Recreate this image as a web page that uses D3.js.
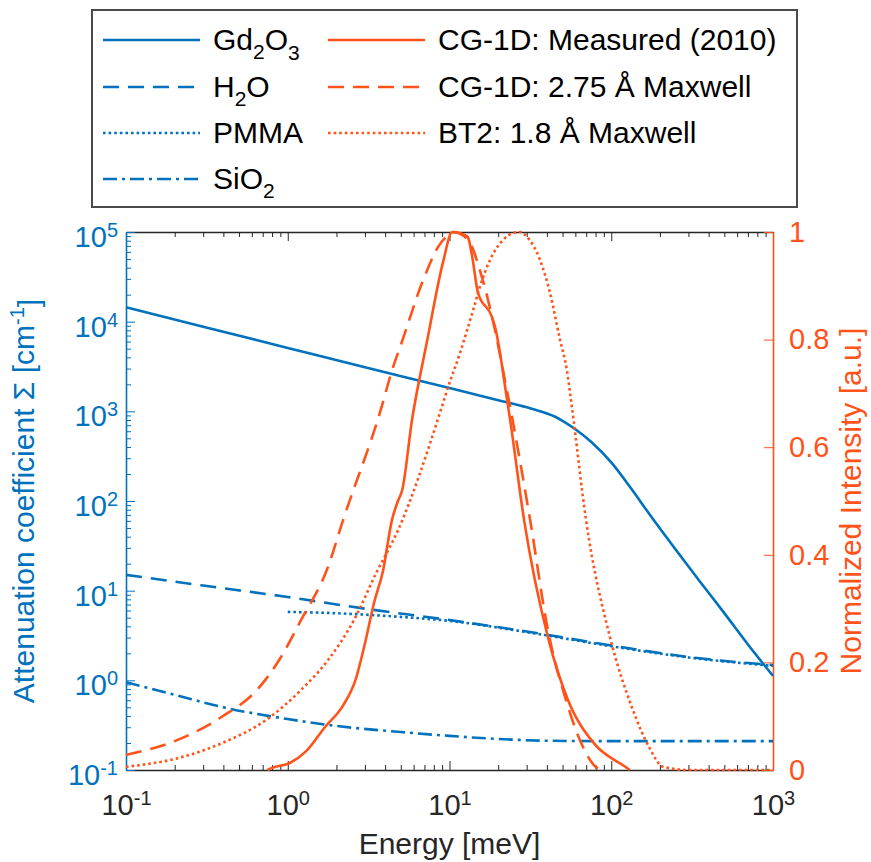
<!DOCTYPE html>
<html>
<head>
<meta charset="utf-8">
<script src="https://cdn.jsdelivr.net/npm/d3@7"></script>
<style>
  body { margin: 0; background: #fff; }
  text { font-family: "Liberation Sans", Arial, sans-serif; }
</style>
</head>
<body>
<div id="chart"></div>
<script>
// ---- data ----
var xTicks = [0.1, 1, 10, 100, 1000];
var yTicksLeft = [0.1, 1, 10, 100, 1000, 10000, 100000];
var yTicksRight = [0, 0.2, 0.4, 0.6, 0.8, 1];

// attenuation coefficients [cm^-1]
var gdE = [0.1, 0.3, 1, 3, 10, 20, 30, 35, 40, 45, 50, 60, 75, 100, 130, 176, 250, 354, 500, 700, 1000];
var gdSigma = [14500, 8800, 5100, 3100, 1820, 1330, 1110, 1020, 945, 870, 785, 631, 457, 269, 145, 67.6, 28.8, 12.6, 5.62, 2.51, 1.12];

var h2oE = [0.1, 0.3, 1, 3, 10, 30, 100, 300, 1000];
var h2oSigma = [15, 11.4, 8.5, 6.3, 4.7, 3.5, 2.45, 1.82, 1.48];

var pmmaE = [1, 2, 3, 5, 10, 30, 100, 300, 1000];
var pmmaSigma = [5.8, 5.6, 5.4, 5.1, 4.6, 3.45, 2.4, 1.8, 1.45];

var sio2E = [0.1, 0.2, 0.4, 1, 2, 5, 10, 20, 40, 100, 1000];
var sio2Sigma = [0.95, 0.69, 0.5, 0.37, 0.31, 0.265, 0.24, 0.222, 0.212, 0.21, 0.21];

// normalized intensity spectra
var measE = [0.75, 0.8, 1.03, 1.3, 1.7, 2.2, 2.64, 3.0, 3.41, 3.88, 4.41, 4.8, 5.1, 5.86, 7.3, 9.12, 10.4, 12.1, 13.0, 13.8, 15.0, 18.3, 19.1, 22.7, 23.7, 28.9, 40.6, 54, 78, 122, 130];
var measI = [0, 0.004, 0.013, 0.035, 0.08, 0.12, 0.17, 0.235, 0.31, 0.37, 0.465, 0.5, 0.52, 0.65, 0.8, 0.944, 1.0, 0.996, 0.99, 0.955, 0.887, 0.842, 0.824, 0.688, 0.651, 0.465, 0.247, 0.13, 0.05, 0.006, 0];

var cgE = [0.1, 0.209, 0.392, 0.646, 0.883, 1.21, 1.77, 2.2, 3.72, 4.48, 4.95, 6.86, 8.49, 9.79, 10.6, 12.2, 13.8, 15.4, 17.1, 19.1, 22.0, 23.7, 31.5, 40.6, 52.5, 66.8, 81.6, 90];
var cgI = [0.028, 0.056, 0.099, 0.149, 0.204, 0.279, 0.377, 0.465, 0.665, 0.749, 0.786, 0.91, 0.972, 0.994, 1.0, 0.993, 0.972, 0.929, 0.88, 0.818, 0.725, 0.675, 0.465, 0.26, 0.13, 0.043, 0.004, 0];

var btE = [0.1, 0.209, 0.392, 0.735, 1.21, 1.77, 2.57, 3.52, 4.81, 8.73, 9.66, 11.6, 14.0, 15.4, 17.8, 21.4, 24.7, 27.3, 30.1, 36.3, 41.8, 48.2, 53.2, 57.1, 69.8, 98.2, 134, 171, 209, 300, 1000];
var btI = [0.006, 0.022, 0.05, 0.093, 0.149, 0.204, 0.279, 0.366, 0.446, 0.664, 0.706, 0.775, 0.855, 0.898, 0.948, 0.985, 0.998, 1.0, 0.991, 0.948, 0.887, 0.8, 0.743, 0.675, 0.465, 0.247, 0.117, 0.043, 0.006, 0, 0];

// ---- sizing ----
var svgWidth = 871;
var svgHeight = 862;
var margin = { top: 232, right: 98, bottom: 92, left: 126 };
var width = svgWidth - margin.left - margin.right;
var height = svgHeight - margin.top - margin.bottom;

var blue = "#0072bd";
var orange = "#ff531a";
var dark = "#262626";

var svg = d3.select("#chart")
  .append("svg")
  .attr("width", svgWidth)
  .attr("height", svgHeight);

var chartGroup = svg.append("g")
  .attr("transform", `translate(${margin.left}, ${margin.top})`);

// scales
var xScale = d3.scaleLog().domain([0.1, 1000]).range([0, width]);
var yLeft = d3.scaleLog().domain([0.1, 100000]).range([height, 0]);
var yRight = d3.scaleLinear().domain([0, 1]).range([height, 0]);

// minor ticks for log axes
function minors(lo, hi) {
  var out = [];
  for (var p = lo; p < hi; p++) {
    for (var k = 2; k <= 9; k++) out.push(k * Math.pow(10, p));
  }
  return out;
}
var xMinor = minors(-1, 3);
var yMinor = minors(-1, 5);

// "10^n" labels
function powerLabel(sel) {
  sel.each(function(d) {
    var t = d3.select(this).text(null);
    var e = Math.round(Math.log10(d));
    t.append("tspan").text("10");
    t.append("tspan").attr("dy", "-0.5em").style("font-size", "20px").text(e);
  });
}

var tickFont = "29px";

// bottom axis
chartGroup.append("g")
  .attr("transform", `translate(0, ${height})`)
  .call(d3.axisBottom(xScale).tickValues(xMinor).tickSizeInner(-5).tickSizeOuter(0).tickFormat(""))
  .call(g => g.select(".domain").remove())
  .call(g => g.selectAll("line").attr("stroke", dark));

chartGroup.append("g")
  .attr("class", "xaxis")
  .attr("transform", `translate(0, ${height})`)
  .call(d3.axisBottom(xScale).tickValues(xTicks).tickSizeInner(-9).tickSizeOuter(0).tickPadding(24))
  .call(g => g.select(".domain").attr("stroke", dark).attr("stroke-width", 1.6))
  .call(g => g.selectAll("line").attr("stroke", dark))
  .call(g => g.selectAll("text").attr("fill", dark).style("font-size", tickFont).call(powerLabel));

// top axis (ticks only)
chartGroup.append("g")
  .call(d3.axisTop(xScale).tickValues(xMinor).tickSizeInner(-5).tickSizeOuter(0).tickFormat(""))
  .call(g => g.select(".domain").remove())
  .call(g => g.selectAll("line").attr("stroke", dark));
chartGroup.append("g")
  .call(d3.axisTop(xScale).tickValues(xTicks).tickSizeInner(-9).tickSizeOuter(0).tickFormat(""))
  .call(g => g.select(".domain").attr("stroke", dark).attr("stroke-width", 1.6))
  .call(g => g.selectAll("line").attr("stroke", dark));

// left axis
chartGroup.append("g")
  .call(d3.axisLeft(yLeft).tickValues(yMinor).tickSizeInner(-5).tickSizeOuter(0).tickFormat(""))
  .call(g => g.select(".domain").remove())
  .call(g => g.selectAll("line").attr("stroke", blue));
chartGroup.append("g")
  .call(d3.axisLeft(yLeft).tickValues(yTicksLeft).tickSizeInner(-9).tickSizeOuter(0).tickPadding(8))
  .call(g => g.select(".domain").attr("stroke", blue).attr("stroke-width", 1.6))
  .call(g => g.selectAll("line").attr("stroke", blue))
  .call(g => g.selectAll("text").attr("fill", blue).attr("dy", "0.5em").style("font-size", tickFont).call(powerLabel));

// right axis
chartGroup.append("g")
  .attr("transform", `translate(${width}, 0)`)
  .call(d3.axisRight(yRight).tickValues(yTicksRight).tickSizeInner(-9).tickSizeOuter(0).tickPadding(16).tickFormat(d => String(d)))
  .call(g => g.select(".domain").attr("stroke", orange).attr("stroke-width", 1.6))
  .call(g => g.selectAll("line").attr("stroke", orange))
  .call(g => g.selectAll("text").attr("fill", orange).style("font-size", tickFont));

// lines
function pairs(xs, ys) {
  return xs.map((v, i) => [v, ys[i]]);
}
var leftLine = d3.line().x(d => xScale(d[0])).y(d => yLeft(d[1])).curve(d3.curveMonotoneX);
var rightSmooth = d3.line().x(d => xScale(d[0])).y(d => yRight(d[1])).curve(d3.curveMonotoneX);

var series = [
  { d: leftLine(pairs(gdE, gdSigma)), color: blue, dash: null },
  { d: leftLine(pairs(h2oE, h2oSigma)), color: blue, dash: "16,9" },
  { d: leftLine(pairs(pmmaE, pmmaSigma)), color: blue, dash: "2.6,3" },
  { d: leftLine(pairs(sio2E, sio2Sigma)), color: blue, dash: "14,5,3,5" },
  { d: rightSmooth(pairs(measE, measI)), color: orange, dash: null },
  { d: rightSmooth(pairs(cgE, cgI)), color: orange, dash: "16,9" },
  { d: rightSmooth(pairs(btE, btI)), color: orange, dash: "2.6,3" }
];

chartGroup.selectAll(".series")
  .data(series)
  .enter()
  .append("path")
  .attr("class", "series")
  .attr("d", d => d.d)
  .attr("fill", "none")
  .attr("stroke", d => d.color)
  .attr("stroke-width", 2.6)
  .attr("stroke-dasharray", d => d.dash);

// axis labels
chartGroup.append("text")
  .attr("transform", `translate(${-92}, ${height / 2}) rotate(-90)`)
  .attr("text-anchor", "middle")
  .attr("fill", blue)
  .style("font-size", "30px")
  .call(t => {
    t.append("tspan").text("Attenuation coefficient \u03A3 [cm");
    t.append("tspan").attr("dy", "-0.5em").style("font-size", "20px").text("-1");
    t.append("tspan").attr("dy", "0.5em").text("]");
  });

chartGroup.append("text")
  .attr("transform", `translate(${width + 88}, ${height / 2}) rotate(-90)`)
  .attr("text-anchor", "middle")
  .attr("fill", orange)
  .style("font-size", "30px")
  .text("Normalized Intensity [a.u.]");

chartGroup.append("text")
  .attr("x", width / 2)
  .attr("y", height + 84)
  .attr("text-anchor", "middle")
  .attr("fill", dark)
  .style("font-size", "30px")
  .text("Energy [meV]");

// legend
var legend = svg.append("g");
legend.append("rect")
  .attr("x", 92).attr("y", 10)
  .attr("width", 705).attr("height", 197)
  .attr("fill", "#fff")
  .attr("stroke", "#4a4a4a")
  .attr("stroke-width", 2);

var legendItems = [
  { col: 0, row: 0, color: blue, dash: null, parts: [["Gd", 0], ["2", 1], ["O", 0], ["3", 1]] },
  { col: 0, row: 1, color: blue, dash: "16,9", parts: [["H", 0], ["2", 1], ["O", 0]] },
  { col: 0, row: 2, color: blue, dash: "2.6,3", parts: [["PMMA", 0]] },
  { col: 0, row: 3, color: blue, dash: "14,5,3,5", parts: [["SiO", 0], ["2", 1]] },
  { col: 1, row: 0, color: orange, dash: null, parts: [["CG-1D: Measured (2010)", 0]] },
  { col: 1, row: 1, color: orange, dash: "16,9", parts: [["CG-1D: 2.75 \u00C5 Maxwell", 0]] },
  { col: 1, row: 2, color: orange, dash: "2.6,3", parts: [["BT2: 1.8 \u00C5 Maxwell", 0]] }
];

var colX = [103, 328];
var rowY = [40, 87, 133, 179];

var items = legend.selectAll(".item")
  .data(legendItems)
  .enter()
  .append("g")
  .attr("transform", d => `translate(${colX[d.col]}, ${rowY[d.row]})`);

items.append("line")
  .attr("x1", 0).attr("x2", 97)
  .attr("stroke", d => d.color)
  .attr("stroke-width", 2.6)
  .attr("stroke-dasharray", d => d.dash);

items.append("text")
  .attr("x", 110)
  .attr("y", 10)
  .attr("fill", "#000")
  .style("font-size", "30px")
  .each(function(d) {
    var t = d3.select(this);
    var low = false;
    d.parts.forEach(function(p) {
      var sp = t.append("tspan").text(p[0]);
      if (p[1] && !low) { sp.attr("dy", "0.45em").style("font-size", "21px"); low = true; }
      else if (!p[1] && low) { sp.attr("dy", "-0.3em"); low = false; }
    });
  });
</script>
</body>
</html>
